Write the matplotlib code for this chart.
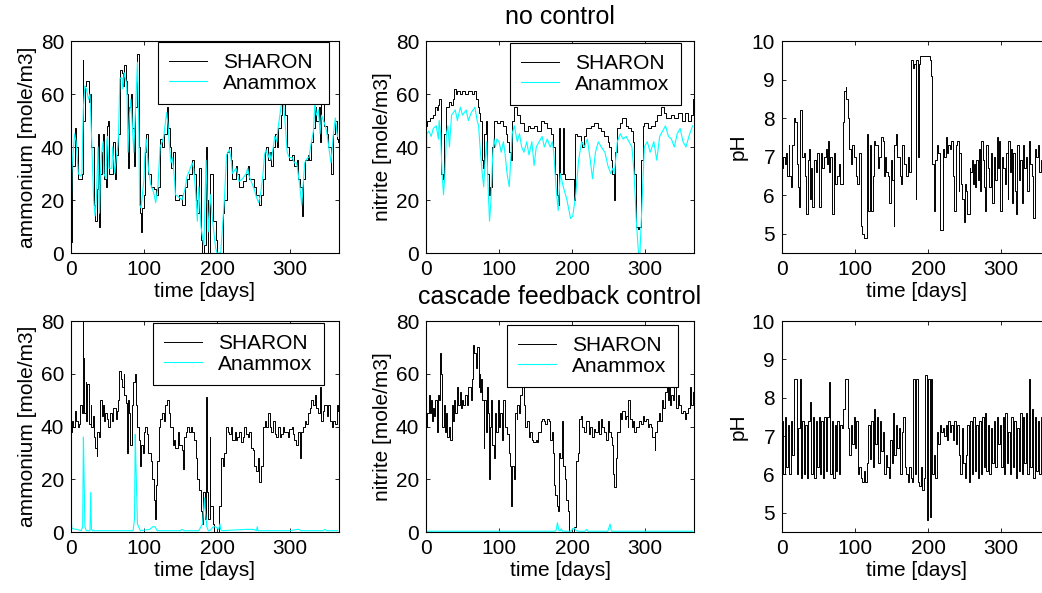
import numpy as np
import matplotlib
matplotlib.use("Agg")
import matplotlib.pyplot as plt

plt.rcParams['font.family'] = ['Liberation Sans', 'DejaVu Sans']
plt.rcParams['font.size'] = 15

# --- no control : ammonium ---
nh4_days_nc = [0, 1, 2, 5, 7, 10, 13, 15, 16, 17,
               19, 21, 24, 26, 28, 31, 33, 35, 37, 39,
               40, 42, 44, 45, 48, 49, 50, 52, 56, 57,
               60, 62, 64, 65, 67, 70, 71, 73, 76, 77,
               78, 80, 82, 84, 86, 88, 90, 91, 93, 94,
               96, 97, 100, 101, 103, 106, 109, 113, 116, 119,
               122, 125, 127, 131, 133, 135, 137, 139, 142, 143,
               148, 152, 156, 159, 162, 166, 168, 171, 173, 175,
               178, 180, 182, 185, 186, 188, 191, 194, 198, 200,
               205, 208, 210, 213, 217, 219, 221, 226, 228, 230,
               235, 240, 242, 244, 251, 254, 257, 260, 263, 265,
               267, 270, 272, 274, 277, 279, 282, 283, 287, 289,
               290, 293, 296, 299, 303, 306, 309, 311, 313, 316,
               318, 320, 324, 326, 328, 332, 334, 336, 339, 341,
               343, 347, 350, 352, 356, 359, 362, 364, 365]
nh4_sharon_nc = [4, 35, 33, 47, 40, 28, 28, 30, 73, 50,
                 63, 65, 57, 60, 40, 18, 12, 24, 45, 10,
                 30, 38, 45, 28, 25, 48, 50, 30, 30, 42,
                 28, 37, 40, 45, 69, 68, 63, 71, 65, 60,
                 32, 55, 60, 47, 33, 55, 70, 75, 40, 15,
                 8, 17, 22, 38, 45, 30, 25, 24, 22, 25,
                 43, 40, 45, 55, 47, 40, 32, 38, 25, 20,
                 22, 18, 25, 28, 30, 35, 30, 20, 15, 32,
                 5, 0, 3, 40, 20, 0, 30, 12, 5, 0,
                 0, 15, 20, 38, 40, 35, 28, 33, 30, 25,
                 27, 30, 33, 28, 25, 22, 18, 22, 28, 38,
                 40, 35, 38, 33, 40, 45, 40, 47, 52, 58,
                 62, 52, 40, 35, 37, 33, 35, 28, 25, 14,
                 28, 35, 37, 35, 42, 47, 55, 50, 55, 42,
                 58, 48, 45, 40, 30, 45, 50, 43, 42]
nh4_anammox_nc = [4, 30, 35, 45, 42, 30, 29, 30, 45, 55,
                  63, 62, 58, 60, 45, 20, 14, 22, 40, 15,
                  28, 38, 42, 30, 28, 42, 44, 32, 32, 40,
                  30, 36, 40, 44, 66, 66, 62, 68, 64, 58,
                  38, 52, 58, 48, 38, 52, 66, 72, 45, 18,
                  17, 20, 28, 36, 43, 32, 26, 23, 19, 25,
                  40, 42, 44, 53, 48, 40, 34, 36, 27, 22,
                  21, 20, 24, 29, 31, 34, 32, 22, 12, 25,
                  10, 6, 3, 35, 25, 8, 22, 12, 2, 0,
                  0, 12, 20, 37, 39, 36, 30, 32, 30, 27,
                  28, 30, 32, 29, 24, 21, 19, 23, 30, 37,
                  39, 36, 38, 35, 40, 44, 42, 46, 54, 58,
                  60, 50, 38, 36, 36, 34, 34, 30, 26, 18,
                  26, 34, 36, 36, 40, 46, 57, 52, 54, 45,
                  52, 49, 46, 42, 34, 44, 51, 46, 44]

# --- no control : nitrite ---
no2_days_sharon_nc = [0, 1, 5, 10, 12, 15, 17, 18, 20, 21,
                      23, 25, 27, 31, 34, 37, 38, 41, 43, 46,
                      49, 54, 58, 63, 66, 69, 71, 72, 74, 77,
                      78, 80, 82, 84, 86, 88, 90, 93, 97, 102,
                      106, 109, 111, 113, 116, 118, 120, 125, 129, 134,
                      139, 143, 148, 152, 157, 161, 166, 171, 174, 176,
                      179, 181, 182, 184, 187, 189, 191, 196, 200, 203,
                      204, 207, 212, 214, 216, 219, 226, 230, 235, 239,
                      244, 249, 251, 253, 255, 257, 259, 261, 265, 269,
                      274, 276, 281, 283, 285, 288, 290, 292, 294, 297,
                      299, 304, 308, 313, 317, 322, 326, 329, 336, 340,
                      345, 350, 354, 359, 363, 365]
no2_sharon_nc = [48, 50, 51, 52, 55, 54, 56, 58, 50, 30,
                 28, 45, 55, 57, 56, 58, 62, 60, 61, 60,
                 61, 60, 61, 60, 61, 58, 55, 53, 50, 35,
                 32, 45, 50, 30, 22, 25, 40, 50, 49, 50,
                 48, 45, 42, 38, 35, 50, 55, 52, 49, 46,
                 48, 47, 48, 46, 50, 49, 47, 45, 40, 30,
                 22, 18, 47, 30, 47, 30, 28, 28, 28, 20,
                 45, 44, 42, 40, 44, 47, 48, 49, 47, 46,
                 44, 42, 40, 35, 30, 20, 38, 47, 49, 51,
                 48, 47, 46, 42, 30, 10, 9, 10, 35, 48,
                 49, 47, 48, 50, 52, 55, 53, 51, 52, 51,
                 53, 50, 53, 50, 52, 58]
no2_days_anammox_nc = [0, 1, 4, 7, 10, 14, 17, 18, 20, 22,
                       24, 26, 28, 30, 32, 35, 40, 43, 47, 50,
                       55, 58, 62, 67, 70, 72, 74, 77, 79, 81,
                       83, 85, 87, 89, 91, 93, 95, 97, 100, 103,
                       106, 108, 111, 114, 118, 121, 125, 128, 131, 134,
                       138, 141, 145, 148, 151, 155, 159, 162, 166, 170,
                       173, 175, 178, 181, 184, 188, 193, 198, 201, 205,
                       209, 213, 217, 221, 225, 228, 232, 236, 240, 245,
                       249, 253, 256, 258, 262, 266, 270, 274, 278, 282,
                       285, 288, 291, 293, 296, 299, 303, 307, 312, 316,
                       320, 324, 328, 332, 336, 340, 344, 348, 352, 356,
                       360, 365]
no2_anammox_nc = [0, 45, 46, 44, 47, 48, 43, 50, 45, 30,
                  22, 30, 45, 48, 40, 52, 54, 50, 55, 52,
                  54, 50, 53, 55, 50, 48, 40, 30, 25, 35,
                  42, 25, 12, 20, 35, 43, 40, 43, 42, 38,
                  42, 38, 30, 25, 45, 48, 42, 45, 40, 38,
                  42, 37, 42, 33, 40, 42, 44, 40, 43, 40,
                  42, 38, 25, 16, 30, 25, 20, 13, 14, 22,
                  35, 42, 40, 43, 35, 28, 38, 42, 40, 38,
                  33, 30, 32, 30, 42, 45, 43, 44, 42, 40,
                  30, 12, 0, 0, 20, 40, 42, 38, 42, 35,
                  44, 46, 48, 44, 43, 40, 45, 47, 42, 40,
                  44, 48]

# --- no control : pH ---
ph_days_nc = [0, 2, 4, 5, 7, 9, 10, 12, 14, 16,
              17, 18, 20, 22, 23, 24, 25, 27, 28, 30,
              32, 33, 35, 37, 39, 40, 41, 44, 46, 48,
              50, 53, 55, 57, 60, 62, 63, 65, 66, 69,
              71, 73, 76, 78, 80, 83, 85, 87, 88, 90,
              92, 94, 96, 99, 101, 103, 105, 108, 110, 112,
              115, 116, 117, 118, 120, 122, 124, 126, 128, 131,
              133, 135, 138, 140, 141, 143, 145, 147, 149, 151,
              153, 154, 156, 158, 161, 163, 165, 167, 170, 172,
              174, 176, 177, 179, 181, 183, 184, 186, 187, 189,
              197, 202, 204, 206, 208, 210, 212, 214, 216, 217,
              219, 221, 222, 224, 226, 228, 230, 232, 234, 236,
              238, 240, 242, 243, 245, 247, 249, 250, 252, 254,
              257, 258, 260, 261, 263, 264, 266, 268, 270, 271,
              273, 275, 276, 278, 280, 282, 284, 286, 288, 290,
              292, 294, 296, 297, 299, 301, 303, 305, 307, 309,
              310, 312, 314, 315, 317, 319, 321, 322, 324, 326,
              328, 330, 332, 334, 336, 338, 340, 342, 344, 346,
              348, 350, 352, 354, 356, 358, 360, 362, 365]
ph_nc = [6.7, 7.0, 6.8, 7.1, 6.5, 7.3, 6.5, 6.2, 7.3, 7.4,
         8.0, 7.9, 6.8, 6.2, 5.7, 6.7, 8.2, 8.1, 7.0, 7.1,
         6.5, 5.5, 6.9, 7.2, 5.9, 6.7, 5.7, 6.9, 6.6, 7.1,
         5.7, 7.1, 6.7, 7.0, 7.2, 6.8, 7.4, 6.6, 7.0, 5.5,
         7.1, 6.3, 6.5, 6.8, 6.3, 7.9, 8.7, 8.8, 8.5, 8.0,
         7.2, 6.8, 7.3, 7.0, 6.5, 6.3, 7.1, 5.2, 5.0, 4.9,
         4.9, 7.0, 7.6, 5.6, 7.3, 5.6, 6.5, 7.4, 7.3, 6.7,
         7.0, 7.5, 7.4, 6.5, 7.0, 6.6, 6.5, 5.8, 6.9, 6.4,
         5.2, 7.3, 7.6, 7.0, 6.5, 6.3, 7.3, 6.8, 6.5, 7.0,
         6.6, 9.3, 9.5, 9.3, 9.4, 5.9, 9.5, 7.0, 9.4, 9.6,
         9.6, 9.5, 9.1, 6.8, 5.6, 6.9, 7.3, 7.1, 6.6, 5.1,
         5.1, 7.2, 7.0, 7.5, 7.1, 7.3, 7.2, 7.4, 6.5, 5.6,
         7.3, 7.4, 6.1, 7.1, 6.3, 5.9, 5.3, 6.3, 6.1, 5.5,
         6.7, 6.6, 6.9, 6.3, 6.8, 6.2, 6.9, 6.4, 7.2, 6.1,
         7.4, 6.9, 6.2, 5.6, 7.3, 6.7, 6.2, 7.1, 5.8, 7.0,
         6.4, 7.5, 6.7, 7.4, 5.6, 7.0, 6.7, 6.3, 7.1, 5.9,
         7.4, 6.6, 7.2, 5.8, 7.1, 6.1, 5.5, 7.3, 6.4, 6.9,
         5.8, 7.3, 6.7, 7.0, 6.1, 7.4, 6.8, 6.5, 5.4, 7.2,
         7.0, 7.3, 6.6, 6.9, 7.2, 6.5, 7.0, 7.3, 6.6]

# --- cascade feedback control : ammonium ---
nh4_days_sharon_fb = [0, 1, 3, 6, 7, 9, 11, 13, 15, 16,
                      17, 18, 20, 21, 22, 24, 25, 27, 28, 30,
                      32, 33, 35, 36, 38, 40, 42, 44, 45, 47,
                      49, 51, 54, 56, 58, 61, 63, 65, 66, 69,
                      70, 72, 73, 75, 77, 78, 79, 81, 83, 85,
                      87, 88, 89, 91, 93, 95, 96, 98, 100, 102,
                      104, 106, 109, 111, 113, 115, 116, 118, 120, 122,
                      125, 127, 129, 132, 134, 136, 139, 141, 143, 146,
                      148, 150, 152, 154, 155, 157, 159, 161, 164, 166,
                      168, 171, 173, 175, 178, 180, 181, 183, 185, 186,
                      188, 190, 191, 194, 196, 201, 203, 205, 208, 210,
                      212, 215, 217, 219, 221, 224, 226, 228, 230, 233,
                      235, 237, 240, 242, 244, 247, 249, 251, 253, 256,
                      258, 260, 263, 265, 267, 270, 272, 274, 276, 279,
                      281, 283, 286, 288, 290, 292, 295, 297, 299, 302,
                      304, 306, 308, 311, 313, 315, 318, 320, 322, 325,
                      327, 329, 332, 334, 336, 338, 341, 343, 345, 347,
                      350, 352, 354, 357, 359, 361, 364, 365]
nh4_sharon_fb = [38, 42, 40, 46, 42, 40, 41, 48, 45, 80,
                 66, 45, 57, 42, 56, 43, 41, 48, 40, 44,
                 36, 32, 29, 38, 36, 50, 44, 48, 42, 45,
                 43, 40, 45, 42, 47, 43, 46, 50, 61, 58,
                 55, 60, 52, 49, 30, 50, 45, 33, 48, 57,
                 58, 60, 48, 40, 35, 25, 33, 30, 38, 40,
                 37, 30, 27, 20, 12, 5, 18, 27, 40, 43,
                 45, 42, 48, 50, 45, 40, 33, 35, 32, 38,
                 33, 33, 31, 24, 36, 38, 40, 38, 40, 38,
                 35, 28, 20, 16, 8, 3, 15, 5, 51, 15,
                 5, 36, 10, 3, 0, 0, 10, 28, 25, 30,
                 40, 38, 37, 40, 35, 38, 35, 36, 38, 34,
                 36, 40, 37, 36, 38, 32, 31, 25, 23, 28,
                 19, 25, 40, 42, 40, 45, 40, 38, 42, 37,
                 36, 40, 36, 37, 40, 38, 38, 36, 39, 40,
                 37, 35, 33, 38, 28, 38, 40, 42, 41, 45,
                 47, 50, 48, 52, 47, 45, 55, 42, 46, 48,
                 44, 48, 42, 40, 42, 41, 48, 46]
nh4_days_anammox_fb = [0, 1, 3, 8, 14, 16, 17, 18, 19, 21,
                       26, 27, 28, 30, 60, 85, 87, 88, 89, 91,
                       95, 108, 112, 115, 118, 150, 152, 155, 175, 180,
                       183, 184, 186, 188, 190, 195, 198, 202, 204, 205,
                       207, 240, 250, 254, 255, 256, 258, 300, 310, 312,
                       315, 345, 348, 350, 365]
nh4_anammox_fb = [7, 1.5, 1.2, 1, 0.5, 2, 36, 20, 2, 0.5,
                  0.5, 15, 1, 0.5, 0.5, 0.5, 5, 37, 25, 3,
                  0.5, 1, 2, 2, 0.5, 0.5, 1, 0.5, 0.5, 3,
                  13, 8, 2, 0.5, 0.5, 2, 2, 1, 3, 1,
                  0.5, 1, 1, 0.5, 2, 0.5, 0.5, 0.5, 1, 1,
                  0.5, 0.5, 1, 0.5, 0.5]

# --- cascade feedback control : nitrite ---
no2_days_sharon_fb = [0, 2, 4, 5, 7, 8, 10, 11, 13, 15,
                      16, 18, 19, 21, 22, 24, 26, 28, 29, 31,
                      33, 35, 37, 38, 40, 42, 44, 46, 48, 49,
                      51, 54, 56, 58, 61, 63, 65, 66, 68, 70,
                      72, 73, 74, 76, 77, 79, 80, 82, 84, 85,
                      86, 88, 89, 91, 93, 94, 96, 98, 100, 102,
                      104, 106, 108, 111, 114, 115, 117, 118, 120, 122,
                      124, 125, 127, 129, 131, 134, 136, 138, 141, 143,
                      145, 147, 150, 152, 154, 157, 159, 161, 163, 166,
                      168, 170, 172, 174, 175, 177, 180, 181, 182, 184,
                      186, 188, 190, 192, 194, 196, 201, 203, 205, 206,
                      208, 210, 212, 214, 217, 219, 223, 225, 228, 230,
                      232, 235, 237, 239, 241, 244, 246, 249, 251, 253,
                      255, 256, 258, 260, 262, 265, 267, 269, 272, 274,
                      276, 277, 280, 282, 284, 285, 288, 290, 292, 294,
                      297, 299, 301, 304, 306, 308, 310, 313, 314, 317,
                      319, 321, 323, 325, 327, 330, 331, 333, 334, 336,
                      338, 340, 342, 345, 347, 349, 352, 354, 356, 359,
                      361, 363, 365]
no2_sharon_fb = [40, 45, 52, 45, 50, 42, 47, 44, 50, 38,
                 52, 50, 68, 60, 40, 48, 38, 45, 36, 40,
                 35, 48, 42, 50, 45, 55, 48, 53, 47, 50,
                 48, 52, 48, 55, 50, 58, 71, 68, 62, 70,
                 55, 60, 53, 58, 50, 32, 50, 38, 55, 45,
                 20, 40, 50, 33, 28, 45, 38, 50, 40, 45,
                 35, 50, 40, 37, 30, 25, 10, 25, 20, 45,
                 43, 48, 45, 52, 55, 48, 40, 42, 36, 38,
                 35, 34, 35, 34, 38, 42, 43, 42, 41, 43,
                 42, 35, 38, 30, 18, 14, 10, 8, 30, 28,
                 42, 25, 20, 12, 8, 0, 0, 2, 15, 27,
                 30, 43, 44, 40, 38, 42, 37, 40, 36, 39,
                 38, 42, 37, 43, 40, 38, 35, 42, 38, 36,
                 33, 22, 17, 28, 38, 45, 43, 46, 43, 44,
                 40, 50, 43, 40, 42, 38, 40, 40, 42, 41,
                 44, 42, 43, 40, 41, 40, 36, 31, 38, 42,
                 45, 42, 50, 47, 53, 56, 50, 55, 48, 52,
                 50, 55, 47, 52, 48, 45, 46, 43, 45, 47,
                 55, 48, 53]
no2_days_anammox_fb = [0, 175, 178, 180, 182, 184, 185, 187, 198, 201,
                       203, 206, 208, 218, 220, 222, 249, 252, 254, 365]
no2_anammox_fb = [0.3, 0.3, 0.5, 3.5, 0.5, 0.5, 1.2, 0.3, 0.3, 1.2,
                  1.5, 0.5, 0.3, 0.3, 1, 0.3, 0.3, 3, 0.3, 0.3]

# --- cascade feedback control : pH (every 2 days) ---
ph_days_fb = np.arange(0, 366, 2)
ph_fb = [7.4, 6.0, 7.5, 6.2, 7.3, 6.0, 7.4, 6.5, 8.5, 8.5,
         6.0, 7.2, 8.5, 5.9, 7.4, 6.0, 7.3, 5.9, 7.4, 7.9,
         6.0, 7.5, 5.9, 7.4, 6.2, 7.5, 6.0, 7.4, 5.9, 7.5,
         6.1, 7.5, 8.4, 6.0, 7.4, 5.9, 7.3, 6.1, 7.4, 6.0,
         7.3, 7.2, 7.7, 8.5, 8.5, 7.2, 6.5, 7.3, 6.8, 7.5,
         6.7, 7.4, 6.0, 6.2, 5.9, 5.8, 6.1, 5.8, 6.3, 7.3,
         6.4, 7.4, 6.2, 7.7, 6.8, 7.5, 6.3, 7.4, 6.6, 7.1,
         6.0, 6.5, 6.2, 5.9, 6.9, 6.3, 7.6, 6.5, 7.3, 6.7,
         7.2, 6.0, 7.1, 7.5, 6.2, 6.0, 5.8, 6.2, 5.9, 5.8,
         8.5, 6.0, 8.5, 5.8, 5.7, 6.2, 5.6, 5.9, 8.6, 4.8,
         8.5, 4.9, 8.5, 6.0, 6.5, 5.9, 7.1, 6.8, 7.3, 7.1,
         7.2, 7.0, 7.3, 6.9, 7.4, 7.1, 7.3, 6.9, 7.4, 6.8,
         7.3, 6.5, 6.0, 7.2, 6.3, 5.9, 6.5, 7.3, 5.8, 7.4,
         6.0, 7.5, 6.1, 7.3, 5.9, 7.4, 6.0, 7.5, 6.2, 7.6,
         6.1, 7.3, 6.0, 7.2, 6.3, 7.4, 6.2, 7.5, 6.8, 7.3,
         6.2, 7.5, 6.0, 7.6, 6.3, 7.1, 6.0, 7.5, 6.2, 7.4,
         5.9, 7.2, 6.1, 7.6, 6.0, 7.5, 6.3, 7.6, 6.0, 8.5,
         6.2, 7.7, 5.9, 7.5, 6.1, 7.4, 6.0, 7.5, 6.3, 7.4,
         6.1, 7.2, 5.9]

W, H = 1042, 593
fig = plt.figure(figsize=(W / 100, H / 100), dpi=100)

col_x = [71, 426, 782]
row_y = [(41, 253), (321, 532)]
aw = 268


def make_ax(col, row):
    top, bot = row_y[row]
    ax = fig.add_axes([col_x[col] / W, 1 - bot / H, aw / W, (bot - top) / H])
    ax.tick_params(direction='in', top=True, right=True, length=3, width=0.6, pad=5)
    for s in ax.spines.values():
        s.set_linewidth(0.8)
    ax.set_xlim(0, 367)
    ax.set_xticks([0, 100, 200, 300])
    return ax


def conc_panel(ax, d1, y1, d2, y2, ylab, anchor, xlab=True):
    ax.plot(d1, y1, color='k', lw=0.7, drawstyle='steps-post', label='SHARON')
    ax.plot(d2, y2, color='#00ffff', lw=0.8, label='Anammox')
    ax.set_ylim(0, 80)
    ax.set_yticks([0, 20, 40, 60, 80])
    ax.set_ylabel(ylab, labelpad=3)
    if xlab:
        ax.set_xlabel('time [days]', labelpad=2)
    leg = ax.legend(loc='upper right', bbox_to_anchor=anchor, borderaxespad=0,
                    fancybox=False, edgecolor='k', framealpha=1,
                    handlelength=1.8, handletextpad=0.8, labelspacing=0.05,
                    borderpad=0.55)
    leg.get_frame().set_linewidth(0.8)


def ph_panel(ax, d, y):
    ax.plot(d, y, color='k', lw=0.7, drawstyle='steps-post')
    ax.set_ylim(4.5, 10)
    ax.set_yticks([5, 6, 7, 8, 9, 10])
    ax.set_ylabel('pH', labelpad=3)
    ax.set_xlabel('time [days]', labelpad=2)


ax = make_ax(0, 0)
conc_panel(ax, nh4_days_nc, nh4_sharon_nc, nh4_days_nc, nh4_anammox_nc,
           'ammonium [mole/m3]', (1 - 10 / aw, 1 - 1 / 212))
ax = make_ax(1, 0)
conc_panel(ax, no2_days_sharon_nc, no2_sharon_nc, no2_days_anammox_nc, no2_anammox_nc,
           'nitrite [mole/m3]', (1 - 13 / aw, 1 - 2 / 212), xlab=False)
ax.set_title('no control', pad=12)
ax = make_ax(2, 0)
ph_panel(ax, ph_days_nc, ph_nc)

ax = make_ax(0, 1)
conc_panel(ax, nh4_days_sharon_fb, nh4_sharon_fb, nh4_days_anammox_fb, nh4_anammox_fb,
           'ammonium [mole/m3]', (1 - 15 / aw, 1 - 2 / 211))
ax = make_ax(1, 1)
conc_panel(ax, no2_days_sharon_fb, no2_sharon_fb, no2_days_anammox_fb, no2_anammox_fb,
           'nitrite [mole/m3]', (1 - 16 / aw, 1 - 4 / 211))
ax.set_title('cascade feedback control', pad=12)
ax = make_ax(2, 1)
ph_panel(ax, ph_days_fb, ph_fb)

fig.savefig('out.png', dpi=100)
